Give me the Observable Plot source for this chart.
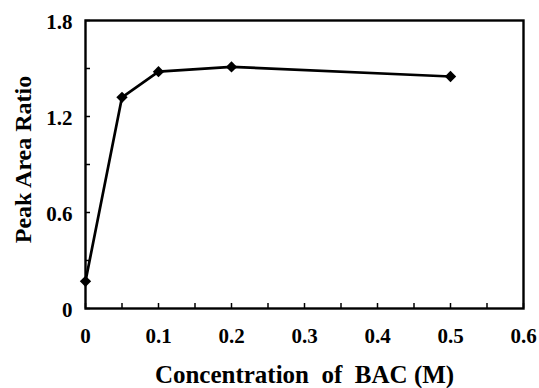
<!DOCTYPE html>
<html>
<head>
<meta charset="utf-8">
<script src="https://cdn.jsdelivr.net/npm/d3@7"></script>
<script src="https://cdn.jsdelivr.net/npm/@observablehq/plot@0.6"></script>
<style>
  html, body { margin: 0; padding: 0; background: #fff; }
</style>
</head>
<body>
<div id="chart"></div>
<script>
const concentration = [0, 0.05, 0.1, 0.2, 0.5];
const peakAreaRatio = [0.17, 1.32, 1.48, 1.51, 1.45];
const xTickLabels = [0, 0.1, 0.2, 0.3, 0.4, 0.5, 0.6];
const xMinorTicks = [0, 0.05, 0.1, 0.15, 0.2, 0.25, 0.3, 0.35, 0.4, 0.45, 0.5, 0.55, 0.6];
const yTickLabels = [0, 0.6, 1.2, 1.8];
const yMinorTicks = [0, 0.3, 0.6, 0.9, 1.2, 1.5, 1.8];
const xTitle = "Concentration\u00a0\u00a0of\u00a0\u00a0BAC (M)";
const yTitle = "Peak Area Ratio";

const data = concentration.map((c, i) => ({x: c, y: peakAreaRatio[i]}));
const fmt = d => d === 0 ? "0" : d.toFixed(1);
const FONT = "'Liberation Serif', 'Times New Roman', Times, 'DejaVu Serif', serif";

const W = 539, H = 388;
const mL = 85, mR = 16, mT = 20, mB = 80;
const fw = W - mL - mR, fh = H - mT - mB;
const tick = 5;

const chart = Plot.plot({
  width: W,
  height: H,
  marginLeft: mL,
  marginRight: mR,
  marginTop: mT,
  marginBottom: mB,
  style: {background: "#fff"},
  x: {domain: [0, 0.6]},
  y: {domain: [0, 1.8]},
  marks: [
    Plot.ruleX(xMinorTicks, {x: d => d, insetTop: fh - tick, stroke: "#000", strokeWidth: 1.5}),
    Plot.ruleY(yMinorTicks, {y: d => d, insetRight: fw - tick, stroke: "#000", strokeWidth: 1.5}),
    Plot.frame({stroke: "#000", strokeWidth: 2.4}),
    Plot.axisX(xTickLabels, {tickSize: 0, tickPadding: 20, tickFormat: fmt, label: null, fontSize: 21, fontWeight: "bold", fontFamily: FONT, fill: "#000"}),
    Plot.axisY(yTickLabels, {tickSize: 0, tickPadding: 13, tickFormat: fmt, label: null, fontSize: 21, fontWeight: "bold", fontFamily: FONT, fill: "#000", dy: 2}),
    Plot.line(data, {x: "x", y: "y", stroke: "#000", strokeWidth: 2.7}),
    Plot.dot(data, {x: "x", y: "y", symbol: "diamond2", r: 5.1, fill: "#000", stroke: "none"}),
    Plot.text([xTitle], {frameAnchor: "bottom", dx: 0, dy: 66, fontSize: 25, fontWeight: "bold", fontFamily: FONT, fill: "#000", lineAnchor: "middle"}),
    Plot.text([yTitle], {frameAnchor: "left", dx: -62, dy: -5, rotate: -90, textAnchor: "middle", lineAnchor: "middle", fontSize: 24, fontWeight: "bold", fontFamily: FONT, fill: "#000"})
  ]
});
document.getElementById("chart").appendChild(chart);
</script>
</body>
</html>
